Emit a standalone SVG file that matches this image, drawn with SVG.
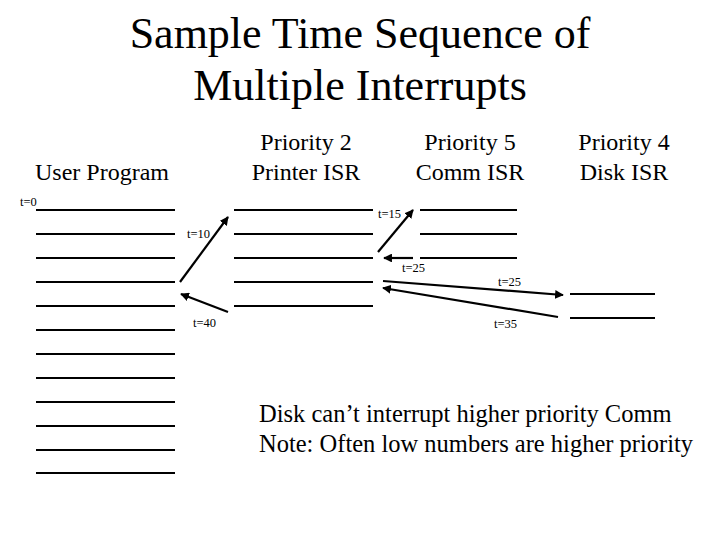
<svg xmlns="http://www.w3.org/2000/svg" width="720" height="540" viewBox="0 0 720 540">
<style>
text{font-family:"Liberation Serif","Times New Roman",serif;fill:#000}
.h{font-size:24px;text-anchor:middle}
.t{font-size:12.5px}
.b{font-size:24.5px}
.l{stroke:#000;stroke-width:1.4;shape-rendering:crispEdges}
.a{stroke:#000;stroke-width:2.2;fill:none;marker-end:url(#ah)}
</style>
<defs><marker id="ah" viewBox="0 0 10 10" refX="9" refY="5" markerWidth="4" markerHeight="4" orient="auto"><path d="M0,0L10,5L0,10z" fill="#000"/></marker></defs>
<rect width="720" height="540" fill="#fff"/>
<text class="h" x="360" y="48" style="font-size:44px">Sample Time Sequence of</text>
<text class="h" x="360" y="100" style="font-size:44px">Multiple Interrupts</text>
<g id="user"><text class="h" x="102" y="180">User Program</text>
<g class="l"><line x1="36" x2="175" y1="210" y2="210"/><line x1="36" x2="175" y1="234" y2="234"/><line x1="36" x2="175" y1="258" y2="258"/><line x1="36" x2="175" y1="282" y2="282"/><line x1="36" x2="175" y1="306" y2="306"/><line x1="36" x2="175" y1="330" y2="330"/><line x1="36" x2="175" y1="354" y2="354"/><line x1="36" x2="175" y1="378" y2="378"/><line x1="36" x2="175" y1="402" y2="402"/><line x1="36" x2="175" y1="426" y2="426"/><line x1="36" x2="175" y1="450" y2="450"/><line x1="36" x2="175" y1="473" y2="473"/></g></g>
<g id="printer"><text class="h" x="306" y="150">Priority 2</text><text class="h" x="306" y="180">Printer ISR</text>
<g class="l"><line x1="234" x2="373" y1="210" y2="210"/><line x1="234" x2="373" y1="234" y2="234"/><line x1="234" x2="373" y1="258" y2="258"/><line x1="234" x2="373" y1="282" y2="282"/><line x1="234" x2="373" y1="306" y2="306"/></g></g>
<g id="comm"><text class="h" x="470" y="150">Priority 5</text><text class="h" x="470" y="180">Comm ISR</text>
<g class="l"><line x1="420" x2="517" y1="210" y2="210"/><line x1="420" x2="517" y1="234" y2="234"/><line x1="420" x2="517" y1="258" y2="258"/></g></g>
<g id="disk"><text class="h" x="624" y="150">Priority 4</text><text class="h" x="624" y="180">Disk ISR</text>
<g class="l"><line x1="570" x2="655" y1="294" y2="294"/><line x1="570" x2="655" y1="318" y2="318"/></g></g>
<g id="connectors">
<line class="a" x1="180" y1="282" x2="228" y2="217"/>
<line class="a" x1="228" y1="312" x2="181" y2="294"/>
<line class="a" x1="378" y1="252" x2="413" y2="210"/>
<line class="a" x1="413" y1="258" x2="384" y2="258"/>
<line class="a" x1="383" y1="281" x2="563" y2="295"/>
<line class="a" x1="558" y1="317" x2="383" y2="288"/>
</g>
<g><text class="t" x="20" y="206">t=0</text><text class="t" x="187" y="238">t=10</text><text class="t" x="378" y="218">t=15</text><text class="t" x="402" y="272">t=25</text><text class="t" x="498" y="286">t=25</text><text class="t" x="494" y="328">t=35</text><text class="t" x="193" y="327">t=40</text></g>
<text class="b" x="259" y="422">Disk can’t interrupt higher priority Comm</text>
<text class="b" x="259" y="452">Note: Often low numbers are higher priority</text>
</svg>
